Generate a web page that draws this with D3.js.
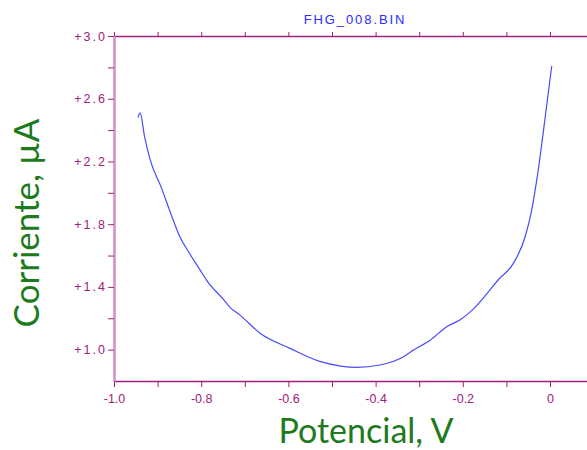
<!DOCTYPE html>
<head>
    <meta charset="UTF-8">
    <style>
    body { margin: 0; background: white; }
    .tick text { font-family: "Liberation Sans", Arial, sans-serif; font-size: 12.5px; fill: #a0207a; }
    .tick line { stroke: #a0207a; }
    </style>
</head>
<svg width="587" height="450"></svg>
<script src="https://d3js.org/d3.v7.min.js"></script>
<script>
// potencial (V) y corriente (uA)
var potential = [-0.945, -0.940, -0.930, -0.917, -0.891, -0.870, -0.849, -0.826, -0.803, -0.787,
    -0.749, -0.734, -0.711, -0.665, -0.596, -0.528, -0.480, -0.443, -0.390, -0.336,
    -0.313, -0.275, -0.237, -0.206, -0.176, -0.138, -0.119, -0.084, -0.057, -0.042,
    -0.027, -0.008, 0.004];
var current = [2.48, 2.51, 2.36, 2.21, 2.03, 1.87, 1.72, 1.61, 1.51, 1.44,
    1.32, 1.27, 1.22, 1.105, 1.008, 0.925, 0.895, 0.887, 0.902, 0.955,
    0.997, 1.06, 1.146, 1.19, 1.258, 1.38, 1.444, 1.55, 1.72, 1.89,
    2.145, 2.549, 2.809];

var xTicks = [-1.0, -0.9, -0.8, -0.7, -0.6, -0.5, -0.4, -0.3, -0.2, -0.1, 0];
var xLabels = ["-1.0", "", "-0.8", "", "-0.6", "", "-0.4", "", "-0.2", "", "0"];
var yTicks = [1.0, 1.2, 1.4, 1.6, 1.8, 2.0, 2.2, 2.4, 2.6, 2.8, 3.0];
var yLabels = ["+1.0", "", "+1.4", "", "+1.8", "", "+2.2", "", "+2.6", "", "+3.0"];

var title = "FHG_008.BIN";
var xTitle = "Potencial, V";
var yTitle = "Corriente, \u00b5A";

var svg = d3.select("svg");

var x = d3.scaleLinear().domain([-1.0, 0.1]).range([114, 593.6]);
var y = d3.scaleLinear().domain([0.8, 3.0]).range([381, 36]);

var gBottom = svg.append("g")
    .attr("transform", "translate(0,381)")
    .call(d3.axisBottom(x).tickValues(xTicks).tickSize(6).tickSizeOuter(0)
        .tickFormat(function(d, i) { return xLabels[i]; }));
gBottom.select(".domain").attr("stroke", "#a0207a").attr("stroke-width", 1.5);
gBottom.selectAll(".tick text").attr("dy", "1.05em");

var gTop = svg.append("g")
    .attr("transform", "translate(0,36)")
    .call(d3.axisTop(x).tickValues(xTicks).tickSize(4).tickSizeOuter(0).tickFormat(""));
gTop.select(".domain").attr("stroke", "#a0207a").attr("stroke-width", 1.5);

var gLeft = svg.append("g")
    .attr("transform", "translate(114,0)")
    .call(d3.axisLeft(y).tickValues(yTicks).tickSize(6).tickSizeOuter(0)
        .tickFormat(function(d, i) { return yLabels[i]; }));
gLeft.select(".domain").attr("stroke", "#d68cc4").attr("stroke-width", 2.5);
gLeft.selectAll(".tick text").attr("x", -7).attr("letter-spacing", "2px");

var line = d3.line()
    .curve(d3.curveMonotoneX)
    .x(function(d, i) { return x(potential[i]); })
    .y(function(d, i) { return y(current[i]); });

svg.append("path")
    .datum(potential)
    .attr("d", line)
    .attr("fill", "none")
    .attr("stroke", "#4a4aff")
    .attr("stroke-width", 1.2);

svg.append("text")
    .attr("x", 355).attr("y", 24)
    .attr("text-anchor", "middle")
    .attr("font-family", "Liberation Sans, Arial, sans-serif")
    .attr("font-size", 13)
    .attr("letter-spacing", "1.9px")
    .attr("fill", "#2b2bff")
    .text(title);

svg.append("text")
    .attr("x", 366).attr("y", 443)
    .attr("text-anchor", "middle")
    .attr("font-family", "Lato, sans-serif")
    .attr("font-size", 34)
    .attr("fill", "#1d7a1d")
    .text(xTitle);

svg.append("text")
    .attr("transform", "translate(39,223) rotate(-90)")
    .attr("text-anchor", "middle")
    .attr("font-family", "Lato, sans-serif")
    .attr("font-size", 35)
    .attr("fill", "#1d7a1d")
    .text(yTitle);
</script>
